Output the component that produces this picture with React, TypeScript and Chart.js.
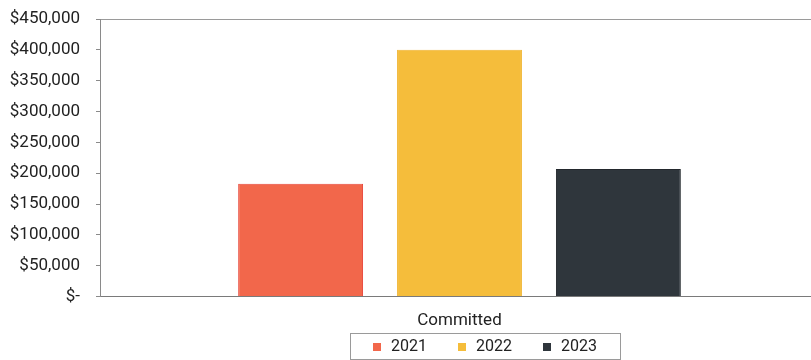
import React, { useEffect, useRef } from "react";
import { Chart, registerables } from "chart.js";

Chart.register(...registerables);

const categories = ["Committed"];
const seriesNames = ["2021", "2022", "2023"];
const values2021 = [183000];
const values2022 = [400000];
const values2023 = [207000];
const yMin = 0;
const yMax = 450000;
const yStep = 50000;

const fillColors = ["#f2674b", "#f5bd3b", "#2f363c"];
const edgeColors = ["#e8463a", "#f0b431", "#23282d"];
const FONT = "Roboto, 'Noto Sans', sans-serif";
const TEXT = "#222222";

const legendPlugin = {
  id: "boxedLegend",
  afterDraw(chart: any) {
    const ctx = chart.ctx as CanvasRenderingContext2D;
    const ds = chart.data.datasets;
    ctx.save();
    ctx.font = `16px ${FONT}`;
    const box = 8;
    const gapText = 10;
    const gapItem = 31;
    const widths = ds.map((d: any) => box + gapText + ctx.measureText(d.label).width);
    const total = widths.reduce((a: number, b: number) => a + b, 0) + gapItem * (ds.length - 1);
    const cx = 485;
    const top = 333;
    const h = 26;
    const padX = 23;
    const left = cx - total / 2;
    ctx.strokeStyle = "#9a9a9a";
    ctx.lineWidth = 1;
    ctx.strokeRect(Math.round(left - padX) + 0.5, top + 0.5, Math.round(total + 2 * padX), h);
    let x = left;
    const my = top + h / 2 + 0.5;
    ds.forEach((d: any, i: number) => {
      ctx.fillStyle = d.backgroundColor;
      ctx.fillRect(Math.round(x), Math.round(my - box / 2), box, box);
      ctx.fillStyle = TEXT;
      ctx.textBaseline = "middle";
      ctx.textAlign = "left";
      ctx.fillText(d.label, x + box + gapText, my);
      x += widths[i] + gapItem;
    });
    ctx.restore();
  },
};

export default function App() {
  const ref = useRef<HTMLCanvasElement | null>(null);
  useEffect(() => {
    if (!ref.current) return;
    const seriesValues = [values2021, values2022, values2023];
    const chart = new Chart(ref.current, {
      type: "bar",
      data: {
        labels: categories,
        datasets: seriesNames.map((name, i) => ({
          label: name,
          data: seriesValues[i],
          backgroundColor: fillColors[i],
          borderColor: edgeColors[i],
          borderWidth: 1,
          categoryPercentage: 0.663,
          barPercentage: 0.786,
        })),
      },
      options: {
        responsive: false,
        animation: false,
        devicePixelRatio: 1,
        layout: { padding: { top: 19, left: 0, right: 0, bottom: 15 } },
        plugins: {
          legend: { display: false },
          tooltip: { enabled: false },
        },
        scales: {
          x: {
            grid: { display: false, drawTicks: false },
            border: { display: true, color: "#7a7a7a", width: 1 },
            ticks: { color: TEXT, font: { family: FONT, size: 17 }, padding: 14 },
          },
          y: {
            min: yMin,
            max: yMax,
            afterFit: (scale: any) => {
              scale.width = 100;
              scale.paddingTop = 0;
              scale.paddingBottom = 0;
            },
            ticks: {
              stepSize: yStep,
              color: TEXT,
              font: { family: FONT, size: 17 },
              padding: 16,
              callback: (v: any) => (Number(v) === 0 ? "$-" : "$" + Number(v).toLocaleString("en-US")),
            },
            grid: {
              color: (c: any) => (c.tick && c.tick.value === yMax ? "#9a9a9a" : "rgba(0,0,0,0)"),
              tickColor: "#8a8a8a",
              tickLength: 4,
              drawTicks: true,
            },
            border: { display: true, color: "#8a8a8a", width: 1 },
          },
        },
      },
      plugins: [legendPlugin],
    });
    return () => chart.destroy();
  }, []);
  return (
    <div style={{ position: "fixed", left: 0, top: 0, width: 811, height: 360, overflow: "hidden", background: "#fff" }}>
      <canvas ref={ref} width={819} height={360} style={{ display: "block" }} />
    </div>
  );
}
